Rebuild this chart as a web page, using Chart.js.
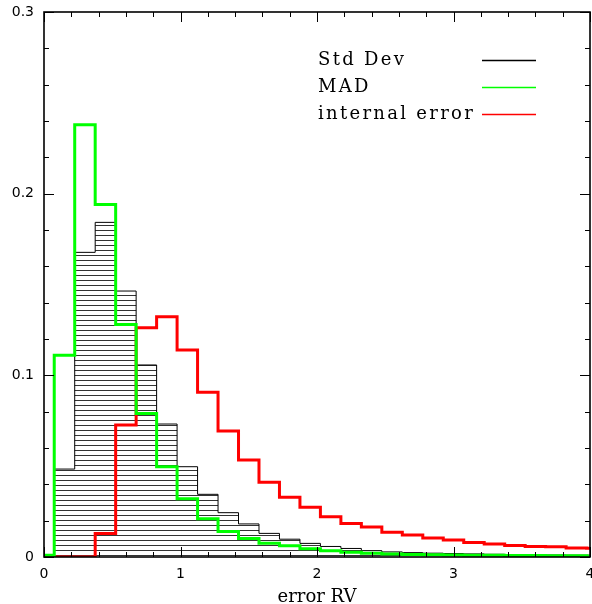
<!DOCTYPE html>
<html>
<head>
<meta charset="utf-8">
<script src="https://cdn.jsdelivr.net/npm/chart.js@4/dist/chart.umd.min.js"></script>
<style>
  html, body { margin: 0; padding: 0; background: #fff; }
  #wrap { width: 592px; height: 604px; }
</style>
</head>
<body>
<div id="wrap"><canvas id="c" width="592" height="604"></canvas></div>
<script>
// ---- data ----
const binCenters = [0, 0.15, 0.3, 0.45, 0.6, 0.75, 0.9, 1.05, 1.2, 1.35, 1.5, 1.65, 1.8, 1.95,
                    2.1, 2.25, 2.4, 2.55, 2.7, 2.85, 3.0, 3.15, 3.3, 3.45, 3.6, 3.75, 3.9, 4.05];
const binWidth = 0.15;
const stdDev = [0, 0.0484, 0.1677, 0.1842, 0.1464, 0.1057, 0.0732, 0.0497, 0.0345, 0.0244, 0.0182,
                0.013, 0.0098, 0.0075, 0.0058, 0.0047, 0.0035, 0.0028, 0.0024, 0.0021, 0.0019,
                0.0017, 0.0015, 0.0013, 0.0012, 0.0011, 0.001, 0.001];
const mad = [0.001, 0.111, 0.238, 0.194, 0.128, 0.079, 0.0497, 0.032, 0.021, 0.014, 0.0102,
             0.0076, 0.0062, 0.0045, 0.0034, 0.0026, 0.002, 0.0017, 0.0014, 0.0012, 0.0011,
             0.001, 0.0009, 0.0008, 0.0008, 0.0007, 0.0007, 0.0006];
const internalErr = [0, 0, 0, 0.013, 0.0727, 0.1262, 0.1323, 0.1139, 0.0907, 0.0694, 0.0534,
                     0.0411, 0.0329, 0.0274, 0.0222, 0.0185, 0.0165, 0.0136, 0.0121, 0.0105,
                     0.0094, 0.008, 0.0072, 0.0063, 0.0058, 0.0056, 0.005, 0.0048];
const seriesNames = ['Std Dev', 'MAD', 'internal error'];
const xTitle = 'error RV';
const xRange = [0, 4];
const yRange = [0, 0.3];

// histogram outline points: left edge of each bin + right edge of last bin
function histPoints(vals) {
  const pts = binCenters.map((c, i) => ({ x: c - binWidth / 2, y: vals[i] }));
  const last = binCenters.length - 1;
  pts.push({ x: binCenters[last] + binWidth / 2, y: vals[last] });
  return pts;
}

// horizontal hatch pattern
const pc = document.createElement('canvas');
pc.width = 4; pc.height = 5;
const pctx = pc.getContext('2d');
pctx.fillStyle = 'rgba(0,0,0,0.8)';
pctx.fillRect(0, 0, 4, 1);
const hatch = pctx.createPattern(pc, 'repeat');

const frameAndTicks = {
  id: 'frameAndTicks',
  afterDatasetsDraw(chart) {
    const { ctx, chartArea: a, scales: { x, y } } = chart;
    ctx.save();
    ctx.strokeStyle = '#000';
    ctx.lineWidth = 1;
    ctx.beginPath();
    // x ticks (bottom and top), inward
    for (let i = 0; i <= 20; i++) {
      const v = i * 0.2;
      const px = Math.round(x.getPixelForValue(v)) + 0.5;
      const len = (i % 5 === 0) ? 10 : 5;
      ctx.moveTo(px, a.bottom); ctx.lineTo(px, a.bottom - len);
      ctx.moveTo(px, a.top); ctx.lineTo(px, a.top + len);
    }
    // y ticks (left and right), inward
    for (let i = 0; i <= 15; i++) {
      const v = i * 0.02;
      const py = Math.round(y.getPixelForValue(v)) + 0.5;
      const len = (i % 5 === 0) ? 10 : 5;
      ctx.moveTo(a.left, py); ctx.lineTo(a.left + len, py);
      ctx.moveTo(a.right, py); ctx.lineTo(a.right - len, py);
    }
    ctx.stroke();
    // frame
    ctx.lineWidth = 1.6;
    ctx.strokeRect(a.left, a.top, a.right - a.left, a.bottom - a.top);

    // legend
    const colors = ['#000000', '#00ff00', '#ff0000'];
    ctx.font = '18px "DejaVu Serif"';
    ctx.fillStyle = '#000';
    ctx.textBaseline = 'middle';
    ctx.textAlign = 'left';
    try { ctx.letterSpacing = '2.3px'; } catch (e) {}
    seriesNames.forEach((name, i) => {
      const yy = 60 + i * 27;
      ctx.fillText(name, 318, yy);
      ctx.beginPath();
      ctx.strokeStyle = colors[i];
      ctx.lineWidth = 1.5;
      ctx.moveTo(482, yy + 0.5);
      ctx.lineTo(536, yy + 0.5);
      ctx.stroke();
    });
    ctx.restore();
  }
};

Chart.defaults.color = '#000';

new Chart(document.getElementById('c'), {
  type: 'line',
  data: {
    datasets: [
      {
        label: seriesNames[1],
        data: histPoints(mad),
        borderColor: '#00ff00',
        borderWidth: 3,
        stepped: 'before',
        pointRadius: 0,
        fill: false,
        order: 0
      },
      {
        label: seriesNames[2],
        data: histPoints(internalErr),
        borderColor: '#ff0000',
        borderWidth: 3,
        stepped: 'before',
        pointRadius: 0,
        fill: false,
        order: 1
      },
      {
        label: seriesNames[0],
        data: histPoints(stdDev),
        borderColor: '#000000',
        borderWidth: 1,
        backgroundColor: hatch,
        stepped: 'before',
        pointRadius: 0,
        fill: 'origin',
        order: 2
      }
    ]
  },
  options: {
    responsive: false,
    devicePixelRatio: 1,
    animation: false,
    layout: { padding: { top: 12, right: 2, left: 0, bottom: 0 } },
    plugins: { legend: { display: false }, tooltip: { enabled: false } },
    elements: { line: { tension: 0 } },
    scales: {
      x: {
        type: 'linear',
        min: xRange[0], max: xRange[1],
        grid: { display: false, drawTicks: false },
        border: { display: false },
        ticks: {
          stepSize: 1,
          padding: 9,
          font: { family: 'DejaVu Sans', size: 14 },
          color: '#000',
          maxRotation: 0
        },
        title: {
          display: true,
          text: xTitle,
          font: { family: 'DejaVu Serif', size: 18, lineHeight: 1 },
          color: '#000',
          padding: { top: 0, bottom: -2 }
        },
        afterFit(scale) {
          scale.height = 47;
          scale.paddingLeft = 0;
          scale.paddingRight = 0;
        }
      },
      y: {
        type: 'linear',
        min: yRange[0], max: yRange[1],
        grid: { display: false, drawTicks: false },
        border: { display: false },
        ticks: {
          stepSize: 0.1,
          padding: 10,
          font: { family: 'DejaVu Sans', size: 14 },
          color: '#000'
        },
        afterFit(scale) {
          scale.width = 44;
          scale.paddingTop = 0;
          scale.paddingBottom = 0;
        }
      }
    }
  },
  plugins: [frameAndTicks]
});
</script>
</body>
</html>
